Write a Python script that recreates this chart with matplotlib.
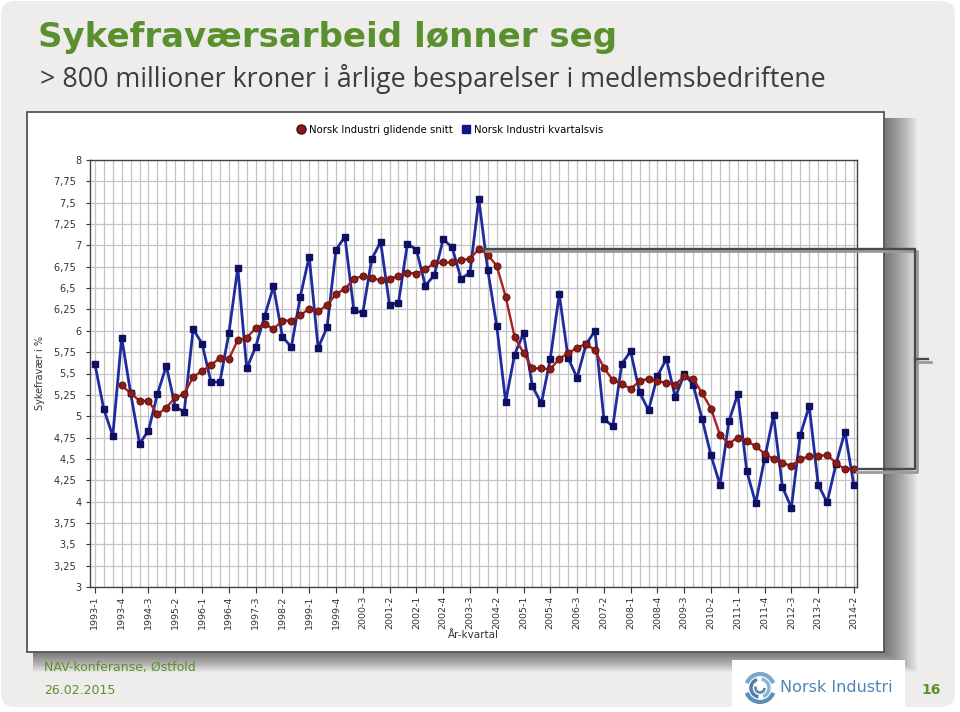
import numpy as np
import matplotlib.pyplot as plt
from matplotlib.patches import Rectangle, FancyBboxPatch, Arc
from matplotlib.lines import Line2D
from matplotlib.transforms import Affine2D
from matplotlib.ticker import MultipleLocator, FixedLocator, FuncFormatter

# quarters 1993-1 .. 2014-2
quarters = [f"{y}-{q}" for y in range(1993, 2015) for q in range(1, 5)][:86]

kvartalsvis = [
    5.61, 5.08, 4.77, 5.92, 5.27, 4.68, 4.83, 5.26, 5.59, 5.11,
    5.05, 6.02, 5.85, 5.40, 5.40, 5.97, 6.74, 5.56, 5.81, 6.17,
    6.52, 5.93, 5.81, 6.40, 6.87, 5.80, 6.04, 6.95, 7.10, 6.24,
    6.21, 6.84, 7.04, 6.30, 6.33, 7.02, 6.95, 6.53, 6.65, 7.07,
    6.98, 6.61, 6.68, 7.54, 6.71, 6.06, 5.17, 5.72, 5.97, 5.35,
    5.15, 5.67, 6.43, 5.68, 5.45, 5.84, 6.00, 4.97, 4.88, 5.61,
    5.76, 5.28, 5.07, 5.47, 5.67, 5.22, 5.49, 5.37, 4.97, 4.54,
    4.20, 4.94, 5.26, 4.36, 3.98, 4.50, 5.01, 4.17, 3.93, 4.78,
    5.12, 4.20, 3.99, 4.44, 4.82, 4.19,
]

glidende = [
    np.nan, np.nan, np.nan, 5.36, 5.27, 5.18, 5.18, 5.02, 5.10, 5.22,
    5.26, 5.46, 5.53, 5.60, 5.68, 5.67, 5.89, 5.92, 6.03, 6.08,
    6.02, 6.12, 6.12, 6.18, 6.26, 6.23, 6.30, 6.43, 6.49, 6.61,
    6.64, 6.62, 6.59, 6.61, 6.64, 6.68, 6.67, 6.72, 6.79, 6.80,
    6.80, 6.83, 6.84, 6.96, 6.89, 6.76, 6.40, 5.93, 5.74, 5.56,
    5.56, 5.55, 5.67, 5.74, 5.80, 5.85, 5.77, 5.57, 5.42, 5.38,
    5.32, 5.41, 5.44, 5.41, 5.39, 5.37, 5.47, 5.44, 5.27, 5.09,
    4.78, 4.68, 4.75, 4.71, 4.65, 4.56, 4.50, 4.45, 4.42, 4.50,
    4.53, 4.53, 4.55, 4.45, 4.38, 4.38,
]

tick_labels = [
    "1993-1", "1993-4", "1994-3", "1995-2", "1996-1", "1996-4", "1997-3",
    "1998-2", "1999-1", "1999-4", "2000-3", "2001-2", "2002-1", "2002-4",
    "2003-3", "2004-2", "2005-1", "2005-4", "2006-3", "2007-2", "2008-1",
    "2008-4", "2009-3", "2010-2", "2011-1", "2011-4", "2012-3", "2013-2",
    "2014-2",
]

title = "Sykefraværsarbeid lønner seg"
subtitle = "> 800 millioner kroner i årlige besparelser i medlemsbedriftene"
footer_event = "NAV-konferanse, Østfold"
footer_date = "26.02.2015"
page_no = "16"

W, H = 960, 712
fig = plt.figure(figsize=(W / 100, H / 100), dpi=100)
fig.patch.set_facecolor("white")
# pixel coordinates, y downwards
px = Affine2D().scale(1 / W, -1 / H).translate(0, 1) + fig.transFigure

# slide background
fig.add_artist(FancyBboxPatch((1, 1), W - 6, H - 6, boxstyle="round,pad=0,rounding_size=14",
                              transform=px, fc="#eeedeb", ec="none", zorder=0))

green = "#5b902f"
fig.text(38, 37, title, transform=px, fontsize=24.5, fontweight="bold", color=green,
         va="center", ha="left", family="DejaVu Sans")
fig.text(40, 79, subtitle, transform=px, fontsize=19.3, color="#3c3c3c",
         va="center", ha="left", family="Open Sans")

# chart panel with soft shadow
pl, pt, pr, pb = 27, 112, 884, 652
for i in range(22, 0, -1):
    fig.add_artist(Rectangle((pl + 6, pt + 6), pr - pl - 6 + i * 1.5, pb - pt - 6 + i * 0.9,
                             transform=px, fc="#000000", ec="none", alpha=0.028, zorder=1))
fig.add_artist(Rectangle((pl, pt), pr - pl, pb - pt, transform=px, fc="white",
                         ec="#555555", lw=1.3, zorder=2))

# plot area
x0, x1, y0, y1 = 90, 857, 160, 587
ax = fig.add_axes([x0 / W, 1 - y1 / H, (x1 - x0) / W, (y1 - y0) / H])
ax.set_zorder(3)
ax.set_facecolor("white")

x = np.arange(len(quarters))
ax.plot(x, kvartalsvis, color="#1f2b9e", lw=2.0, marker="s", ms=4.4,
        mfc="#101060", mec="#101060", zorder=3)
ax.plot(x, glidende, color="#a8231e", lw=1.7, marker="o", ms=5.2,
        mfc="#8e1c16", mec="#4a0a06", mew=0.5, zorder=4)

ax.set_xlim(-0.55, 85.35)
ax.set_ylim(3, 8)
ax.yaxis.set_major_locator(MultipleLocator(0.25))


def komma(v, pos):
    if abs(v - round(v)) < 1e-6:
        return f"{int(round(v))}"
    return f"{v:g}".replace(".", ",") + "\u2007"


ax.yaxis.set_major_formatter(FuncFormatter(komma))
tick_pos = [quarters.index(t) for t in tick_labels]
ax.xaxis.set_major_locator(FixedLocator(tick_pos))
ax.set_xticklabels(tick_labels, rotation=90, fontsize=6.8, color="#333333")
ax.xaxis.set_minor_locator(MultipleLocator(1))
ax.grid(True, which="both", axis="x", color="#c4c4c4", lw=0.9)
ax.grid(True, which="major", axis="y", color="#c4c4c4", lw=0.9)
ax.set_axisbelow(True)
ax.tick_params(axis="y", labelsize=7, colors="#333333", length=3, pad=3)
ax.tick_params(axis="x", which="major", length=4, pad=2, colors="#333333")
ax.tick_params(axis="x", which="minor", length=0)
for s in ax.spines.values():
    s.set_color("#444444")
    s.set_linewidth(1)

ax.set_ylabel("Sykefravær i %", fontsize=7, color="#333333", labelpad=6)
ax.set_xlabel("År-kvartal", fontsize=7.5, color="#333333", labelpad=1)

h_red = Line2D([], [], ls="none", marker="o", ms=6.5, mfc="#8e1c16", mec="#4a0a06")
h_blue = Line2D([], [], ls="none", marker="s", ms=6, mfc="#14148a", mec="#14148a")
fig.legend([h_red, h_blue], ["Norsk Industri glidende snitt", "Norsk Industri kvartalsvis"],
           loc="center", bbox_to_anchor=(450 / W, 1 - 130 / H), ncol=2, frameon=False,
           fontsize=7.3, handlelength=0.8, handletextpad=0.4, columnspacing=0.9)

# bracket from the moving-average peak down to the last value
g = np.array(glidende)
i_peak = int(np.nanargmax(g))
top, last = g[i_peak], g[-1]
mid = (top + last) / 2
bx, nx = 91.8, 93.3
for dx, dy, col, lw in [(0.3, -0.03, "#9a9a9a", 2.0), (0, 0, "#4a4a4a", 1.7)]:
    ax.plot([i_peak + 0.45 + dx, bx + dx, bx + dx, len(g) - 1 + 0.1 + dx],
            [top + dy, top + dy, last + dy, last + dy],
            color=col, lw=lw, clip_on=False, zorder=6, solid_joinstyle="round")
    ax.plot([bx + dx, nx + dx], [mid + dy, mid + dy], color=col, lw=lw,
            clip_on=False, zorder=6)

# footer
fig.text(44, 668, footer_event, transform=px, fontsize=9, color=green, va="center")
fig.text(44, 690, footer_date, transform=px, fontsize=9, color=green, va="center")
fig.text(931, 690, page_no, transform=px, fontsize=10, fontweight="bold", color=green,
         va="center", ha="center")

# logo box
fig.add_artist(Rectangle((732, 660), 173, 52, transform=px, fc="white", ec="none", zorder=1))
for r, a1, a2, c, w in [(14, 20, 160, "#5b8fb8", 3), (14, 200, 340, "#7aa8cc", 3),
                        (9, 100, 250, "#4a7fae", 2.5), (9, 280, 430, "#8bb5d4", 2.5),
                        (4.5, 0, 200, "#5b8fb8", 2)]:
    fig.add_artist(Arc((760, 688), 2 * r, 2 * r, theta1=a1, theta2=a2, transform=px,
                       color=c, lw=w, zorder=2))
fig.text(780, 688, "Norsk Industri", transform=px, fontsize=11.5, color="#4f86b4",
         va="center", ha="left")

fig.savefig("out.png", dpi=100)
